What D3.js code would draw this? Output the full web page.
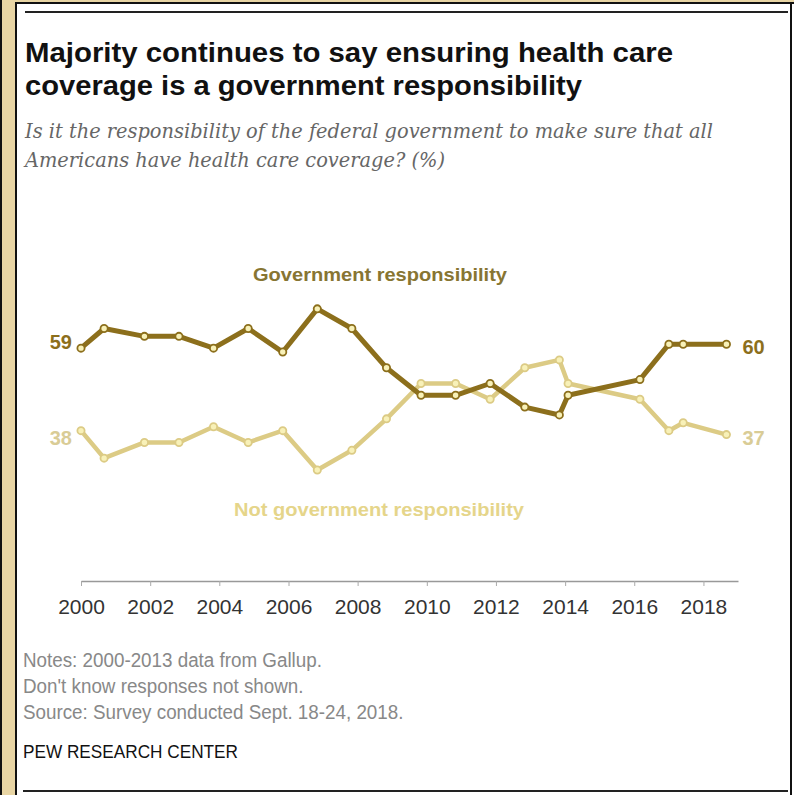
<!DOCTYPE html>
<html>
<head>
<meta charset="utf-8">
<script src="https://cdn.jsdelivr.net/npm/d3@7"></script>
<style>
  body { margin: 0; background: #fff; }
  svg { display: block; }
</style>
</head>
<body>
<script>
// survey dates (year-month) and shares (%)
const dates = ["2000-01","2000-09","2001-11","2002-11","2003-11","2004-11","2005-11","2006-11","2007-11","2008-11",
  "2009-11","2010-11","2011-11","2012-11","2013-11","2014-02","2016-03","2017-01","2017-06","2018-09"];
const govResp = [59,64,62,62,59,64,58,69,64,54,47,47,50,44,42,47,51,60,60,60];
const notGovResp = [38,31,35,35,39,35,38,28,33,41,50,50,46,54,56,50,46,38,40,37];

const titleLines = ["Majority continues to say ensuring health care", "coverage is a government responsibility"];
const subtitleLines = ["Is it the responsibility of the federal government to make sure that all",
  "Americans have health care coverage? (%)"];
const noteLines = ["Notes: 2000-2013 data from Gallup.", "Don't know responses not shown.",
  "Source: Survey conducted Sept. 18-24, 2018."];

const W = 794, H = 795;
const dark = '#8c6f1c', light = '#dccb85';
const parse = d3.timeParse('%Y-%m');

const svg = d3.select('body').append('svg')
  .attr('width', W)
  .attr('height', H);

// frame
svg.append('rect').attr('x', 0).attr('y', 0).attr('width', 16).attr('height', H).attr('fill', '#e8d5a4');
svg.append('rect').attr('x', 0).attr('y', 0).attr('width', W).attr('height', 2).attr('fill', '#e8d5a4');
svg.append('rect').attr('x', 0).attr('y', 0).attr('width', 2).attr('height', H).attr('fill', '#111');
svg.append('rect').attr('x', 15).attr('y', 2).attr('width', 2).attr('height', H).attr('fill', '#111');
svg.append('rect').attr('x', 15).attr('y', 2).attr('width', W - 15).attr('height', 2).attr('fill', '#111');
svg.append('rect').attr('x', 790).attr('y', 2).attr('width', 2).attr('height', H).attr('fill', '#111');

// rules
svg.append('line').attr('x1', 25).attr('x2', 788).attr('y1', 12).attr('y2', 12)
  .attr('stroke', '#222').attr('stroke-width', 2);
svg.append('line').attr('x1', 23).attr('x2', 788).attr('y1', 791).attr('y2', 791)
  .attr('stroke', '#222').attr('stroke-width', 2);

// title + subtitle
svg.selectAll('text.title')
  .data(titleLines)
  .enter().append('text')
    .attr('class', 'title')
    .attr('x', 25)
    .attr('y', (d, i) => 62 + i * 33)
    .attr('textLength', (d, i) => [648, 557][i])
    .attr('lengthAdjust', 'spacingAndGlyphs')
    .style('font', 'bold 27px "Liberation Sans", Arial, sans-serif')
    .style('fill', '#111')
    .text(d => d);

svg.selectAll('text.subtitle')
  .data(subtitleLines)
  .enter().append('text')
    .attr('class', 'subtitle')
    .attr('x', 25)
    .attr('y', (d, i) => 138 + i * 29)
    .attr('textLength', (d, i) => [688, 420][i])
    .attr('lengthAdjust', 'spacingAndGlyphs')
    .style('font', 'italic 20px "DejaVu Serif", Georgia, serif')
    .style('fill', '#666')
    .text(d => d);

// scales
const x = d3.scaleTime()
  .domain([parse('2000-01'), parse('2019-01')])
  .range([81, 738]);
const y = d3.scaleLinear()
  .domain([0, 60])
  .range([580, 344.2]);

const xAxis = d3.axisBottom(x)
  .ticks(d3.timeYear.every(2))
  .tickFormat(d3.timeFormat('%Y'))
  .tickSize(5)
  .tickSizeOuter(0)
  .tickPadding(13);

const axisG = svg.append('g')
  .attr('transform', 'translate(0,581)')
  .call(xAxis);
axisG.select('.domain').attr('stroke', '#999').attr('stroke-width', 1.5);
axisG.selectAll('.tick line').attr('stroke', '#aaa');
axisG.selectAll('.tick text')
  .style('font', '21px "Liberation Sans", Arial, sans-serif')
  .style('fill', '#333');

const series = [
  { name: 'not', values: notGovResp, color: light, width: 4.5 },
  { name: 'gov', values: govResp, color: dark, width: 5 }
];

const line = d3.line()
  .x(d => x(d.date))
  .y(d => y(d.value));

series.forEach(s => {
  const pts = dates.map((d, i) => ({ date: parse(d), value: s.values[i] }));
  svg.append('path')
    .datum(pts)
    .attr('d', line)
    .attr('fill', 'none')
    .attr('stroke', s.color)
    .attr('stroke-width', s.width)
    .attr('stroke-linejoin', 'round');
  svg.selectAll('circle.' + s.name)
    .data(pts)
    .enter().append('circle')
      .attr('class', s.name)
      .attr('cx', d => x(d.date))
      .attr('cy', d => y(d.value))
      .attr('r', 3.6)
      .attr('fill', '#f8f1b8')
      .attr('stroke', s.color)
      .attr('stroke-width', 1.8);
});

// end labels
const endLabels = [
  { v: govResp[0], x: x(parse(dates[0])) - 9, dy: 1, anchor: 'end', color: dark },
  { v: notGovResp[0], x: x(parse(dates[0])) - 9, dy: 14, anchor: 'end', color: '#d9cc96' },
  { v: govResp[govResp.length - 1], x: x(parse(dates[dates.length - 1])) + 16, dy: 10, anchor: 'start', color: dark },
  { v: notGovResp[notGovResp.length - 1], x: x(parse(dates[dates.length - 1])) + 16, dy: 10, anchor: 'start', color: '#d9cc96' }
];
svg.selectAll('text.endlabel')
  .data(endLabels)
  .enter().append('text')
    .attr('class', 'endlabel')
    .attr('x', d => d.x)
    .attr('y', d => y(d.v) + d.dy)
    .attr('text-anchor', d => d.anchor)
    .style('font', 'bold 20px "Liberation Sans", Arial, sans-serif')
    .style('fill', d => d.color)
    .text(d => d.v);

// series labels
svg.append('text')
  .attr('x', 380).attr('y', 281)
  .attr('text-anchor', 'middle')
  .attr('textLength', 254)
  .attr('lengthAdjust', 'spacingAndGlyphs')
  .style('font', 'bold 18px "Liberation Sans", Arial, sans-serif')
  .style('fill', '#877532')
  .text('Government responsibility');
svg.append('text')
  .attr('x', 379).attr('y', 516)
  .attr('text-anchor', 'middle')
  .attr('textLength', 290)
  .attr('lengthAdjust', 'spacingAndGlyphs')
  .style('font', 'bold 18px "Liberation Sans", Arial, sans-serif')
  .style('fill', '#e5d58a')
  .text('Not government responsibility');

// notes: squeeze every line by the same factor for a condensed face
svg.selectAll('text.note')
  .data(noteLines)
  .enter().append('text')
    .attr('class', 'note')
    .attr('x', 23)
    .attr('y', (d, i) => 667 + i * 26)
    .style('font', '20px "Liberation Sans", Arial, sans-serif')
    .style('fill', '#888')
    .text(d => d)
    .each(function() {
      d3.select(this)
        .attr('textLength', this.getComputedTextLength() * 0.94)
        .attr('lengthAdjust', 'spacingAndGlyphs');
    });

svg.append('text')
  .attr('x', 23).attr('y', 758)
  .attr('textLength', 215)
  .attr('lengthAdjust', 'spacingAndGlyphs')
  .style('font', '19px "Liberation Sans", Arial, sans-serif')
  .style('fill', '#111')
  .text('PEW RESEARCH CENTER');
</script>
</body>
</html>
